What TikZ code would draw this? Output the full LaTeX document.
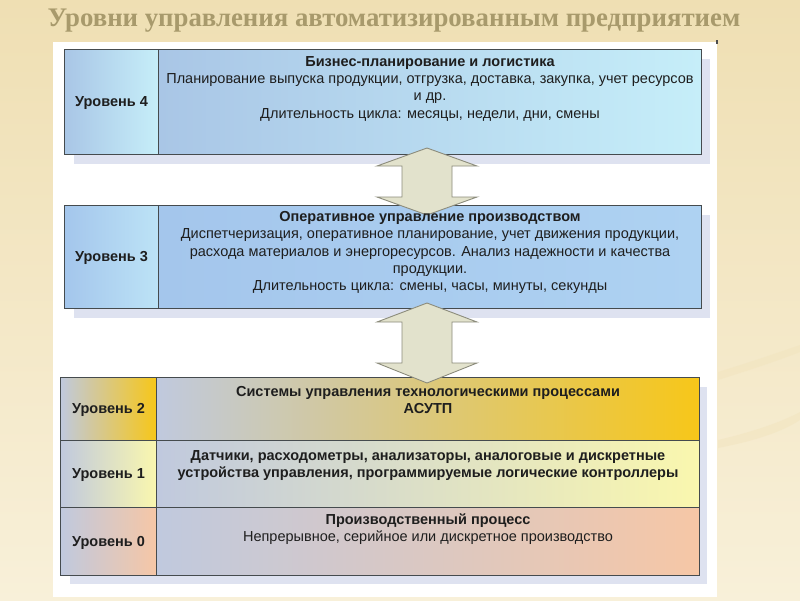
\documentclass[tikz,border=0pt]{standalone}
\usepackage{fontspec}
\setmainfont{Liberation Sans}
\newfontfamily\titlefont{Liberation Serif}
\usetikzlibrary{calc}
\definecolor{bgtop}{HTML}{EFDFB3}
\definecolor{bgbot}{HTML}{F8F0D9}
\definecolor{titlecol}{HTML}{A89A6C}
\definecolor{edge}{HTML}{454B4E}
\definecolor{shadowc}{HTML}{DEE2F0}
\definecolor{arrowfill}{HTML}{E2E2CC}
\definecolor{arrowedge}{HTML}{8C8C7C}
\definecolor{txt}{HTML}{1E1E1E}
\definecolor{blueA}{HTML}{A9C6E6}
\definecolor{blueB}{HTML}{C6EEF9}
\definecolor{blueC}{HTML}{A4C6EC}
\definecolor{blueD}{HTML}{AED2F2}
\definecolor{grayL}{HTML}{C0C9DE}
\definecolor{gold}{HTML}{F7C719}
\definecolor{paley}{HTML}{FAF7AE}
\definecolor{peach}{HTML}{F6C7A6}
\tikzset{
  cell/.style={draw=edge, line width=0.9pt, inner sep=0pt, anchor=north west},
  lab/.style={font=\fontsize{14.5}{17}\selectfont\bfseries, text=txt, anchor=mid, inner sep=0pt},
  head/.style={font=\fontsize{14.5}{17}\selectfont\bfseries, text=txt, anchor=mid, inner sep=0pt},
  body/.style={font=\fontsize{14.5}{17}\selectfont, text=txt, anchor=mid, inner sep=0pt},
  blockarrow/.style={fill=arrowfill, draw=arrowedge, line width=0.9pt, line join=miter},
  shadowbox/.style={fill=shadowc, draw=none}
}
\begin{document}
\begin{tikzpicture}[x=1pt,y=-1pt]
% background
\shade[top color=bgtop, bottom color=bgbot] (0,0) rectangle (800,600);
\useasboundingbox (0,0) rectangle (800,600);
% faint swooshes
\fill[bgtop!70!bgbot, opacity=0.5] (718,372) .. controls (750,362) and (780,352) .. (800,345) -- (800,352) .. controls (780,360) and (750,370) .. (718,380) -- cycle;
\fill[bgtop!70!bgbot, opacity=0.5] (718,440) .. controls (760,430) and (785,420) .. (800,412) -- (800,420) .. controls (785,430) and (760,440) .. (718,448) -- cycle;
% title
\node[font=\titlefont\bfseries\fontsize{26.8}{30}\selectfont, text=titlecol, anchor=mid, inner sep=0pt] (title) at (394,24) {Уровни управления автоматизированным предприятием};
% white panel
\fill[white] (53,42) rectangle (717,597);
\fill[black!70] (716,40) rectangle (718,44);
% shadows
\fill[shadowc] (74,59) rectangle (710,164);
\fill[shadowc] (74,215) rectangle (710,318);
\fill[shadowc] (70,387) rectangle (707,584);
% level 4
\node[cell, minimum width=94pt, minimum height=105pt, left color=blueA, right color=blueB] (l4lab) at (64,49) {};
\node[cell, minimum width=543pt, minimum height=105pt, left color=blueA, right color=blueB] (l4main) at (158,49) {};
% level 3
\node[cell, minimum width=94pt, minimum height=103pt, left color=blueC, right color=blueB!60!blueD] (l3lab) at (64,205) {};
\node[cell, minimum width=543pt, minimum height=103pt, left color=blueC, right color=blueD] (l3main) at (158,205) {};
% level 2
\node[cell, minimum width=96pt, minimum height=63pt, left color=grayL, right color=gold] (l2lab) at (60,377) {};
\node[cell, minimum width=543pt, minimum height=63pt, left color=grayL, right color=gold] (l2main) at (156,377) {};
% level 1
\node[cell, minimum width=96pt, minimum height=67pt, left color=grayL, right color=paley] (l1lab) at (60,440) {};
\node[cell, minimum width=543pt, minimum height=67pt, left color=grayL, right color=paley] (l1main) at (156,440) {};
% level 0
\node[cell, minimum width=96pt, minimum height=68pt, left color=grayL, right color=peach] (l0lab) at (60,507) {};
\node[cell, minimum width=543pt, minimum height=68pt, left color=grayL, right color=peach] (l0main) at (156,507) {};
% arrows
\coordinate (a1t) at (427,148);
\coordinate (a1b) at (427,215);
\coordinate (a2t) at (427,303);
\coordinate (a2b) at (427,383);
\draw[blockarrow] (a1t) -- ++(50,18) -- ++(-25,0) -- ($(a1b)+(25,-18)$) -- ++(25,0) -- (a1b) -- ++(-50,-18) -- ++(25,0) -- ($(a1t)+(-25,18)$) -- ++(-25,0) -- cycle;
\draw[blockarrow] (a2t) -- ++(50,19) -- ++(-25,0) -- ($(a2b)+(25,-20)$) -- ++(25,0) -- (a2b) -- ++(-50,-20) -- ++(25,0) -- ($(a2t)+(-25,19)$) -- ++(-25,0) -- cycle;
% labels
\node[lab] (t4) at ($(l4lab.center)+(0,2)$) {Уровень 4};
\node[lab] (t3) at ($(l3lab.center)+(0,2)$) {Уровень 3};
\node[lab] (t2) at ($(l2lab.center)+(0,2)$) {Уровень 2};
\node[lab] (t1) at ($(l1lab.center)+(0,2)$) {Уровень 1};
\node[lab] (t0) at ($(l0lab.center)+(0,2)$) {Уровень 0};
% level 4 text
\node[head] (h4) at (430,64) {Бизнес-планирование и логистика};
\node[body] (b4a) at (430,81) {Планирование выпуска продукции, отгрузка, доставка, закупка, учет ресурсов};
\node[body] (b4b) at (430,98) {и др.};
\node[body] (b4c) at (430,116) {Длительность цикла: месяцы, недели, дни, смены};
% level 3 text
\node[head] (h3) at (430,219) {Оперативное управление производством};
\node[body] (b3a) at (430,236) {Диспетчеризация, оперативное планирование, учет движения продукции,};
\node[body] (b3b) at (430,254) {расхода материалов и энергоресурсов. Анализ надежности и качества};
\node[body] (b3c) at (430,271) {продукции.};
\node[body] (b3d) at (430,288) {Длительность цикла: смены, часы, минуты, секунды};
% level 2 text
\node[head] (h2) at (428,394) {Системы управления технологическими процессами};
\node[head] (h2b) at (428,411) {АСУТП};
% level 1 text
\node[head] (h1a) at (428,458) {Датчики, расходометры, анализаторы, аналоговые и дискретные};
\node[head] (h1b) at (428,475) {устройства управления, программируемые логические контроллеры};
% level 0 text
\node[head] (h0) at (428,522) {Производственный процесс};
\node[body] (b0) at (428,539) {Непрерывное, серийное или дискретное производство};
\end{tikzpicture}
\end{document}
